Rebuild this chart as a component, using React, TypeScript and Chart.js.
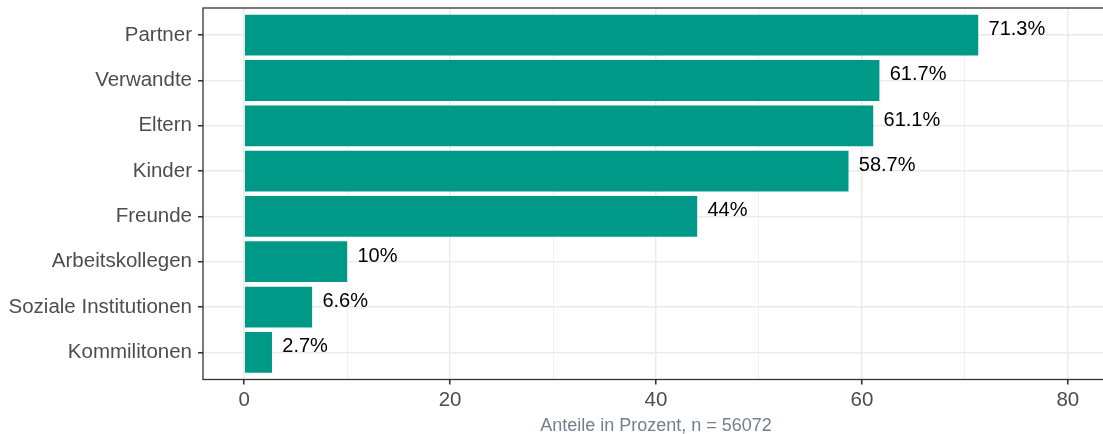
import React, { useEffect, useRef } from "react";
import { Chart, registerables } from "chart.js";

Chart.register(...registerables);

const categories = [
  "Partner",
  "Verwandte",
  "Eltern",
  "Kinder",
  "Freunde",
  "Arbeitskollegen",
  "Soziale Institutionen",
  "Kommilitonen",
];
const values = [71.3, 61.7, 61.1, 58.7, 44, 10, 6.6, 2.7];
const xTicks = [0, 10, 20, 30, 40, 50, 60, 70, 80];
const xMajorStep = 20;
const axisTitle = "Anteile in Prozent, n = 56072";

const FONT = '"Liberation Sans", Arial, Helvetica, sans-serif';
const BAR_COLOR = "#009988";
const GRID = "#EBEBEB";
const DARK = "#333333";
const TICK_TEXT = "#4D4D4D";

const CANVAS_W = 1130;
const CANVAS_H = 434;

const barLabels = {
  id: "barLabels",
  afterDatasetsDraw(chart: any) {
    const ctx = chart.ctx;
    const meta = chart.getDatasetMeta(0);
    const xs = chart.scales.x;
    ctx.save();
    ctx.font = `20px ${FONT}`;
    ctx.fillStyle = "#000000";
    ctx.textAlign = "left";
    ctx.textBaseline = "alphabetic";
    meta.data.forEach((bar: any, i: number) => {
      const v = values[i];
      ctx.fillText(`${v}%`, xs.getPixelForValue(v + 1), bar.y);
    });
    ctx.restore();
  },
};

const panelBorder = {
  id: "panelBorder",
  afterDraw(chart: any) {
    const { ctx, chartArea } = chart;
    ctx.save();
    ctx.strokeStyle = DARK;
    ctx.lineWidth = 1.3;
    ctx.strokeRect(
      chartArea.left,
      chartArea.top,
      chartArea.right - chartArea.left,
      chartArea.bottom - chartArea.top
    );
    ctx.restore();
  },
};

export default function App() {
  const ref = useRef<HTMLCanvasElement | null>(null);

  useEffect(() => {
    if (!ref.current) return;
    const chart = new Chart(ref.current, {
      type: "bar",
      data: {
        datasets: [
          {
            data: values.map((v, i) => ({ x: v, y: i })),
            backgroundColor: BAR_COLOR,
            borderWidth: 0,
            categoryPercentage: 1,
            barPercentage: 0.9,
          },
        ],
      },
      options: {
        indexAxis: "y",
        responsive: false,
        animation: false,
        devicePixelRatio: 1,
        layout: { padding: { top: 8, right: CANVAS_W - 1109, bottom: 0, left: 0 } },
        plugins: {
          legend: { display: false },
          tooltip: { enabled: false },
          title: { display: false },
        },
        scales: {
          x: {
            type: "linear",
            min: -4,
            max: 84,
            offset: false,
            afterBuildTicks(scale: any) {
              scale.ticks = xTicks.map((v) => ({ value: v }));
            },
            afterFit(scale: any) {
              scale.height = CANVAS_H - 379.5;
              scale.paddingLeft = 0;
              scale.paddingRight = 0;
            },
            border: { display: false },
            grid: {
              offset: false,
              color: GRID,
              lineWidth: (ctx: any) =>
                ctx.tick && ctx.tick.value % xMajorStep === 0 ? 1.5 : 0.75,
              tickColor: (ctx: any) =>
                ctx.tick && ctx.tick.value % xMajorStep === 0 ? DARK : "rgba(0,0,0,0)",
              tickLength: 5,
              tickWidth: 1.6,
              drawTicks: true,
            },
            ticks: {
              autoSkip: false,
              maxRotation: 0,
              padding: 4,
              color: TICK_TEXT,
              font: { family: FONT, size: 20.5 },
              callback: (v: any) => (Number(v) % xMajorStep === 0 ? String(v) : ""),
            },
            title: {
              display: true,
              text: axisTitle,
              color: "#708090",
              font: { family: FONT, size: 18, lineHeight: 0.87 },
              padding: { top: 0, bottom: 0 },
            },
          },
          y: {
            type: "linear",
            reverse: true,
            offset: false,
            min: -0.6,
            max: categories.length - 1 + 0.6,
            afterBuildTicks(scale: any) {
              scale.ticks = categories.map((_, i) => ({ value: i }));
            },
            afterFit(scale: any) {
              scale.width = 203;
              scale.paddingTop = 0;
              scale.paddingBottom = 0;
            },
            border: { display: false },
            grid: {
              offset: false,
              color: GRID,
              lineWidth: 1.5,
              tickColor: DARK,
              tickLength: 5,
              tickWidth: 1.6,
            },
            ticks: {
              autoSkip: false,
              padding: 6,
              color: TICK_TEXT,
              font: { family: FONT, size: 20.5 },
              callback: (v: any) => categories[Number(v)] ?? "",
            },
          },
        },
      },
      plugins: [barLabels, panelBorder],
    } as any);
    return () => chart.destroy();
  }, []);

  return (
    <div
      style={{
        position: "absolute",
        left: 0,
        top: 0,
        width: 1103,
        height: CANVAS_H,
        overflow: "hidden",
        background: "#ffffff",
      }}
    >
      <canvas
        ref={ref}
        width={CANVAS_W}
        height={CANVAS_H}
        style={{ width: CANVAS_W, height: CANVAS_H, display: "block" }}
      />
    </div>
  );
}
